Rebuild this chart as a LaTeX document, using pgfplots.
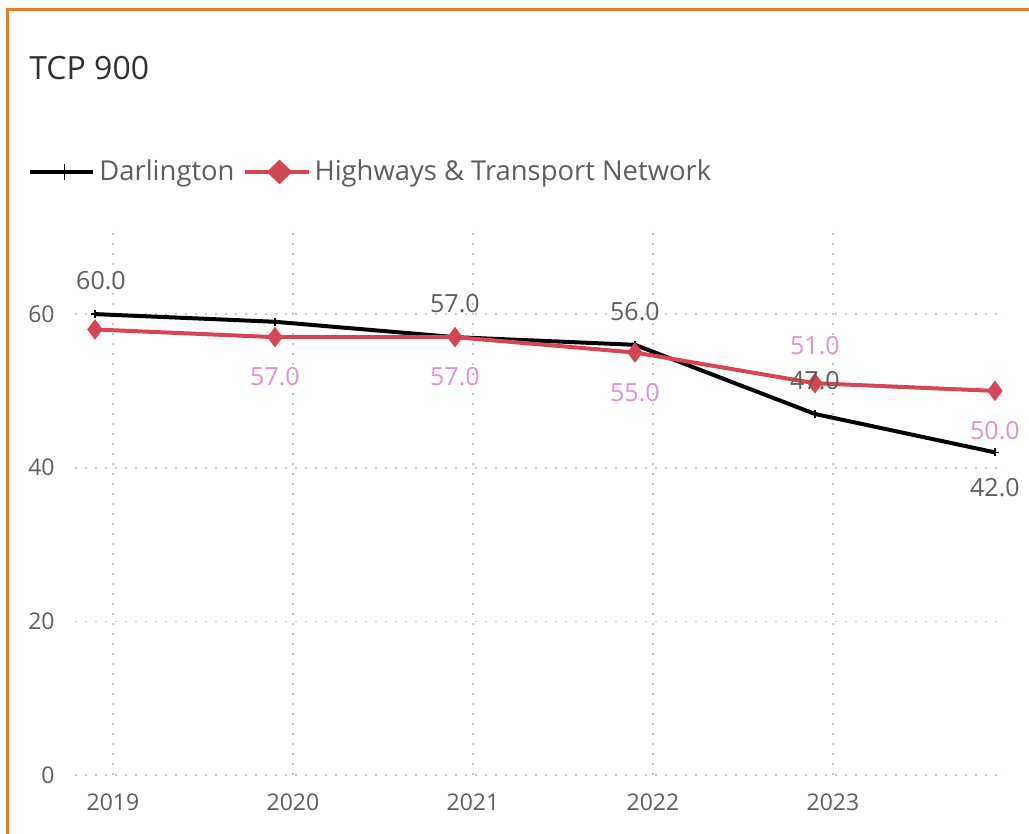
\documentclass[border=0pt]{standalone}
\usepackage{pgfplots}
\pgfplotsset{compat=1.18}
\usepackage{fontspec}
\setmainfont{Open Sans}
\definecolor{borderorange}{RGB}{232,125,40}
\definecolor{hred}{RGB}{214,69,84}
\definecolor{hpink}{RGB}{224,145,208}
\definecolor{txtgray}{RGB}{96,94,92}
\definecolor{titlegray}{RGB}{50,49,48}
\definecolor{gridgray}{RGB}{200,200,200}
\begin{document}
\begin{tikzpicture}
\useasboundingbox (0,0) rectangle (514.5pt,417pt);
\draw[borderorange, line width=1.5pt] (3.75pt,0) -- (3.75pt,412pt) -- (514.5pt,412pt);
\node[anchor=base west, inner sep=0pt, text=titlegray, font=\fontsize{16}{19}\selectfont] at (14.5pt,377pt) {TCP 900};
\begin{axis}[
  at={(37.5pt,29.5pt)}, anchor=south west,
  scale only axis, width=465pt, height=275pt,
  xmin=2018.789, xmax=2023.956, ymin=0, ymax=71.6,
  xtick={2019,2020,2021,2022,2023},
  xticklabels={2019,2020,2021,2022,2023},
  ytick={0,20,40,60},
  axis line style={draw=none},
  tick style={draw=none},
  grid=major,
  major grid style={gridgray, line width=0.8pt, dash pattern=on 0.8pt off 4.2pt},
  yticklabel style={anchor=east, inner sep=0pt, xshift=-10pt, text=txtgray, font=\fontsize{11.5}{14}\selectfont},
  xticklabel style={anchor=north, inner sep=0pt, yshift=-9pt, text=txtgray, font=\fontsize{11.5}{14}\selectfont},
  /pgf/number format/assume math mode=true,
  legend columns=-1,
  legend style={at={(-0.0505,1.0964)}, anchor=west, draw=none, fill=none, inner sep=0pt,
    nodes={inner sep=0pt, text=txtgray, font=\fontsize{13.7}{16}\selectfont},
    /tikz/every odd column/.append style={column sep=2pt},
    /tikz/every even column/.append style={column sep=4pt}},
  clip=false,
]
\addplot[black, line width=2pt, mark=+, mark size=2pt, mark options={line width=0.6pt},
  legend image code/.code={
    \draw[black, line width=2pt] (0pt,0pt) -- (31.5pt,0pt);
    \draw[black, line width=0.8pt] (17pt,-4pt) -- (17pt,4pt);}]
  coordinates {(2018.9,60) (2019.9,59) (2020.9,57) (2021.9,56) (2022.9,47) (2023.9,42)};
\addlegendentry{Darlington}
\addplot[hred, line width=2pt, mark=diamond*, mark size=3.5pt, mark options={solid},
  legend image code/.code={
    \draw[hred, line width=2pt] (0pt,0pt) -- (32pt,0pt);
    \fill[hred] (17.5pt,4.75pt) -- (22.5pt,0pt) -- (17.5pt,-4.75pt) -- (12.5pt,0pt) -- cycle;}]
  coordinates {(2018.9,58) (2019.9,57) (2020.9,57) (2021.9,55) (2022.9,51) (2023.9,50)};
\addlegendentry{Highways \& Transport Network}
% data label Darlington first point (shifted right as in the reference)
\addplot[draw=none, mark=none, forget plot, point meta=y,
  nodes near coords={\pgfmathprintnumber[fixed,fixed zerofill,precision=1]{\pgfplotspointmeta}},
  nodes near coords style={anchor=south, inner sep=0pt, yshift=12pt, xshift=3pt, text=txtgray, font=\fontsize{12.5}{15}\selectfont, /pgf/number format/assume math mode=true}]
  coordinates {(2018.9,60)};
% data labels Darlington above
\addplot[draw=none, mark=none, forget plot, point meta=y,
  nodes near coords={\pgfmathprintnumber[fixed,fixed zerofill,precision=1]{\pgfplotspointmeta}},
  nodes near coords style={anchor=south, inner sep=0pt, yshift=12pt, text=txtgray, font=\fontsize{12.5}{15}\selectfont, /pgf/number format/assume math mode=true}]
  coordinates {(2020.9,57) (2021.9,56) (2022.9,47)};
% Darlington below
\addplot[draw=none, mark=none, forget plot, point meta=y,
  nodes near coords={\pgfmathprintnumber[fixed,fixed zerofill,precision=1]{\pgfplotspointmeta}},
  nodes near coords style={anchor=north, inner sep=0pt, yshift=-13pt, text=txtgray, font=\fontsize{12.5}{15}\selectfont, /pgf/number format/assume math mode=true}]
  coordinates {(2023.9,42)};
% Highways below
\addplot[draw=none, mark=none, forget plot, point meta=y,
  nodes near coords={\pgfmathprintnumber[fixed,fixed zerofill,precision=1]{\pgfplotspointmeta}},
  nodes near coords style={anchor=north, inner sep=0pt, yshift=-15pt, text=hpink, font=\fontsize{12.5}{15}\selectfont, /pgf/number format/assume math mode=true}]
  coordinates {(2019.9,57) (2020.9,57) (2021.9,55) (2023.9,50)};
% Highways above
\addplot[draw=none, mark=none, forget plot, point meta=y,
  nodes near coords={\pgfmathprintnumber[fixed,fixed zerofill,precision=1]{\pgfplotspointmeta}},
  nodes near coords style={anchor=south, inner sep=0pt, yshift=14pt, text=hpink, font=\fontsize{12.5}{15}\selectfont, /pgf/number format/assume math mode=true}]
  coordinates {(2022.9,51)};
\end{axis}
\end{tikzpicture}
\end{document}
